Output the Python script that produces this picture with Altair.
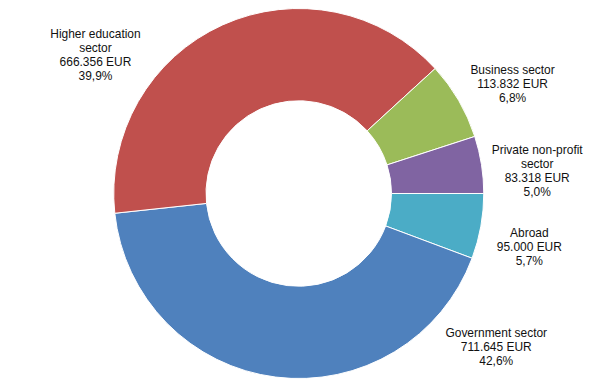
import math
import altair as alt
import pandas as pd

# Data (slice order clockwise starting at 3 o'clock)
categories = ["Abroad", "Government sector", "Higher education sector",
              "Business sector", "Private non-profit sector"]
label_names = ["Abroad", "Government sector", "Higher education\nsector",
               "Business sector", "Private non-profit\nsector"]
values_eur = [95000, 711645, 666356, 113832, 83318]
colors = ["#4BACC6", "#4F81BD", "#C0504D", "#9BBB59", "#8064A2"]

total = sum(values_eur)


def fmt_eur(v):
    return f"{v:,}".replace(",", ".") + " EUR"


def fmt_pct(v):
    return f"{v / total * 100:.1f}".replace(".", ",") + "%"


df = pd.DataFrame({
    "category": categories,
    "value": values_eur,
    "order": list(range(len(categories))),
    "label": [f"{n}\n{fmt_eur(v)}\n{fmt_pct(v)}" for n, v in zip(label_names, values_eur)],
})

start = math.pi / 2
theta_scale = alt.Scale(domain=[0, total], range=[start, start + 2 * math.pi])
color_scale = alt.Scale(domain=categories, range=colors)

base = alt.Chart(df)

arcs = base.mark_arc(innerRadius=93, outerRadius=185.5, stroke="white", strokeWidth=1).encode(
    theta=alt.Theta("value:Q", stack=True, scale=theta_scale),
    color=alt.Color("category:N", scale=color_scale, legend=None),
    order=alt.Order("order:Q"),
)

# label nudges (pixels) relative to the slice mid-angle at radius 240
label_offsets = {
    "Abroad": (-5, -3),
    "Government sector": (228, -98),
    "Higher education sector": (-105, 59),
    "Business sector": (7, -3),
    "Private non-profit sector": (2, -6),
}

layers = [arcs]
for cat, (ddx, ddy) in label_offsets.items():
    layers.append(
        base.transform_stack(
            stack="value", groupby=[], as_=["v0", "v1"],
            sort=[alt.SortField("order", order="ascending")],
        )
        .transform_calculate(mid="(datum.v0 + datum.v1) / 2")
        .transform_filter(alt.datum.category == cat)
        .mark_text(radius=240, dx=ddx, dy=ddy, lineBreak="\n", lineHeight=14,
                   align="center", baseline="middle", font="Liberation Sans",
                   fontSize=12, color="#111111")
        .encode(
            theta=alt.Theta("mid:Q", stack=False, scale=theta_scale),
            text="label:N",
        )
    )

chart = alt.layer(*layers).properties(
    width=580, height=371,
    padding={"left": 1.5, "top": 0, "right": 0, "bottom": 10},
    autosize=alt.AutoSizeParams(type="none"),
).configure_view(stroke=None)

chart.save("out.html", embed_options={"renderer": "svg", "actions": False})
